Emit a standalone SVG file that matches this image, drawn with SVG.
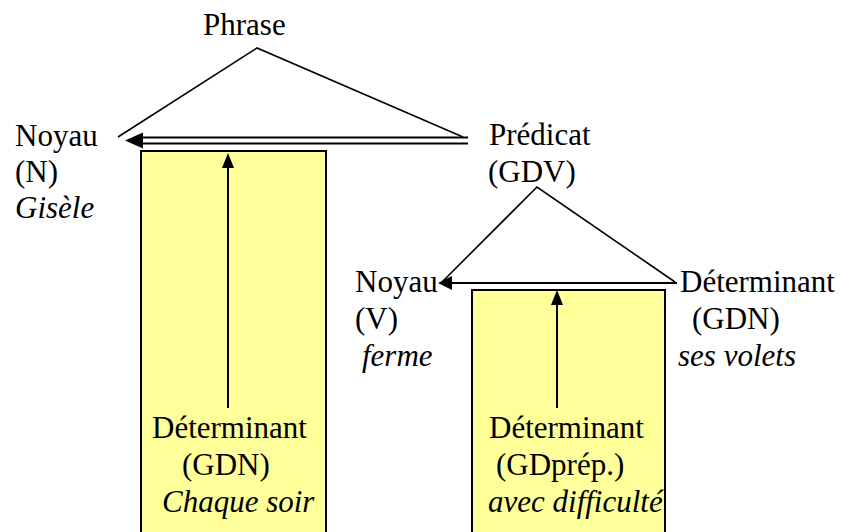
<svg xmlns="http://www.w3.org/2000/svg" width="841" height="532" viewBox="0 0 841 532">
<defs>
<style>
text{font-family:'Liberation Serif','DejaVu Serif',serif;font-size:31px;fill:#000}
.it{font-style:italic}
.box{fill:#FFFF99;stroke:#000;stroke-width:2}
.ln{stroke:#000;stroke-width:1.6;fill:none}
.ar{stroke:#000;stroke-width:2;fill:none}
</style>
</defs>
<g id="box-gdn">
<rect class="box" x="141" y="151" width="185" height="400"/>
</g>
<g id="box-gdprep">
<rect class="box" x="472" y="290" width="193" height="260"/>
</g>
<g id="connectors">
<polyline class="ln" points="118,137 257,48 463,137"/>
<line class="ar" x1="468" y1="137.5" x2="140" y2="137.5"/>
<line class="ar" x1="468" y1="143.5" x2="140" y2="143.5"/>
<path d="M125,140.5 L143,132.5 L143,148.5 Z" fill="#000"/>
<line class="ar" x1="228" y1="408" x2="228" y2="166"/>
<path d="M228,153 L222,168 L234,168 Z" fill="#000"/>
<polyline class="ln" points="442,282 537,187 675,282"/>
<line class="ar" x1="677" y1="283" x2="450" y2="283"/>
<path d="M438,283 L452,276 L452,290 Z" fill="#000"/>
<line class="ar" x1="557" y1="408" x2="557" y2="303"/>
<path d="M557,290 L551,305 L563,305 Z" fill="#000"/>
</g>
<g font-family="'Liberation Serif', 'DejaVu Serif', serif">
<g id="node-phrase"><text x="203" y="35">Phrase</text></g>
<g id="node-noyau-n">
<text x="15" y="146">Noyau</text>
<text x="15" y="182">(N)</text>
<text x="15" y="218" class="it">Gisèle</text>
</g>
<g id="node-predicat">
<text x="489" y="145">Prédicat</text>
<text x="488" y="182">(GDV)</text>
</g>
<g id="node-noyau-v">
<text x="355" y="292">Noyau</text>
<text x="355" y="329">(V)</text>
<text x="362" y="366" class="it">ferme</text>
</g>
<g id="node-det-gdn">
<text x="680" y="292">Déterminant</text>
<text x="692" y="329">(GDN)</text>
<text x="678" y="366" class="it">ses volets</text>
</g>
<g id="node-det-chaque">
<text x="152" y="438">Déterminant</text>
<text x="182" y="475">(GDN)</text>
<text x="162" y="512" class="it">Chaque soir</text>
</g>
<g id="node-det-avec">
<text x="489" y="438">Déterminant</text>
<text x="496" y="475">(GDprép.)</text>
<text x="488" y="512" class="it">avec difficulté</text>
</g>
</g>
</svg>
